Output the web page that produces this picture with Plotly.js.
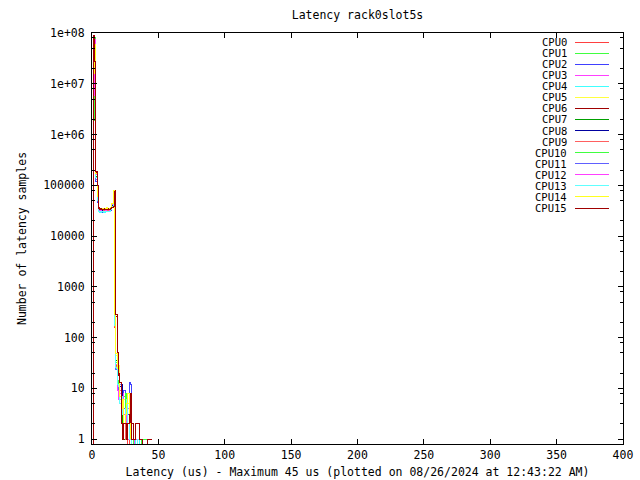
<!DOCTYPE html>
<html><head><meta charset="utf-8">
<script src="https://cdn.plot.ly/plotly-3.0.1.min.js"></script>
<style>html,body{margin:0;padding:0;background:#fff}
.scatterlayer path, .shapelayer path { shape-rendering: crispEdges; }</style>
</head><body><div id="chart" style="width:640px;height:480px"></div>
<script>
const cpuNames = ["CPU0","CPU1","CPU2","CPU3","CPU4","CPU5","CPU6","CPU7","CPU8","CPU9","CPU10","CPU11","CPU12","CPU13","CPU14","CPU15"];
const cpuColors = ["#ff4040","#40ff40","#4040ff","#ff40ff","#40ffff","#ffff40","#a00000","#00a000","#0000a0","#ff6060","#40ff40","#6060ff","#ff40ff","#60ffff","#ffff20","#a00000"];
const latencyUs = [0,1,2,3,4,5,6,7,8,9,10,11,12,13,14,15,16,17,18,19,20,21,22,23,24,25,26,27,28,29,30,31,32,33,34,35,36,37,38,39,40,41,42,43,44,45];

const cpu0 = [0,9.0e7,5.0e6,1.6e5,5.2e4,3.4e4,3.3e4,3.3e4,3.4e4,3.3e4,3.3e4,3.4e4,3.3e4,3.4e4,3.5e4,3.9e4,7.2e4,155,28,12,8,6,3,2,4,2,1,0,1];
const cpu1 = [0,6.0e7,6.0e6,1.8e5,6.0e4,3.5e4,3.4e4,3.4e4,3.5e4,3.4e4,3.4e4,3.5e4,3.4e4,3.4e4,3.6e4,4.2e4,6.5e4,270,35,14,9,6,5,4,7,5,3,2,1,1,0,1];
const cpu2 = [0,7.0e7,3.0e6,1.2e5,4.5e4,3.0e4,2.9e4,2.9e4,3.0e4,3.0e4,3.1e4,3.0e4,3.0e4,3.1e4,3.2e4,3.6e4,6.8e4,180,25,11,8,7,5,6,9,6,5,3,13,12,2,0,0,1];
const cpu3 = [0,5.5e7,8.0e6,1.5e5,5.5e4,3.2e4,3.1e4,3.2e4,3.2e4,3.1e4,3.2e4,3.2e4,3.1e4,3.2e4,3.4e4,4.0e4,7.5e4,200,30,10,7,5,4,8,3,6,2,4,1,2,0,0,1,1,1,1];
const cpu4 = [0,1.2e7,4.0e7,1.3e5,5.0e4,3.0e4,2.9e4,3.0e4,3.0e4,2.9e4,3.0e4,3.1e4,3.0e4,3.0e4,3.3e4,3.8e4,7.0e4,170,25,12,10,6,4,5,2,7,3,1,2,1,0,0,0,1,1,1,0,1,1,1];
const cpu5 = [0,1.6e7,3.0e7,1.7e5,5.8e4,3.5e4,3.4e4,3.5e4,3.5e4,3.4e4,3.5e4,3.6e4,3.4e4,3.5e4,3.7e4,4.4e4,8.0e4,300,45,22,28,8,5,2,6,1,3,5,1,1];
const cpu6 = [0,8.5e7,2.7e7,1.8e5,1.0e5,3.6e4,3.5e4,3.5e4,3.5e4,3.5e4,3.4e4,3.5e4,3.5e4,3.5e4,3.6e4,3.7e4,4.0e4,7.8e4,260,40,18,12,2,1,2,2,1,1,2,7,2,1,1,2,2,2,1];
const cpu7 = [0,6.5e6,7.0e7,1.5e5,6.5e4,3.3e4,3.3e4,3.2e4,3.3e4,3.3e4,3.3e4,3.2e4,3.3e4,3.3e4,3.5e4,4.1e4,7.0e4,280,35,12,8,5,3,2,1,2,1];
const cpu8 = [0,5.0e7,1.0e7,1.4e5,5.5e4,3.2e4,3.1e4,3.1e4,3.2e4,3.1e4,3.2e4,3.1e4,3.2e4,3.2e4,3.4e4,4.0e4,7.3e4,210,30,13,12,11,12,6,4,3,5,2,1,1];
const cpu9 = [0,4.0e7,1.5e7,1.6e5,5.0e4,3.3e4,3.2e4,3.3e4,3.3e4,3.2e4,3.3e4,3.3e4,3.2e4,3.3e4,3.5e4,3.9e4,7.1e4,165,27,10,7,9,5,3,2,1,2,1];
const cpu10 = [0,1.9e6,8.0e7,1.7e5,6.2e4,3.4e4,3.4e4,3.3e4,3.4e4,3.4e4,3.4e4,3.3e4,3.4e4,3.4e4,3.6e4,4.3e4,7.6e4,240,33,13,6,8,5,4,3,8,5,2,1,1,0,1,0,0,0,0,0,1,1,1,1,1,1];
const cpu11 = [0,3.0e7,2.0e7,1.3e5,4.8e4,3.1e4,3.0e4,3.1e4,3.1e4,3.0e4,3.1e4,3.1e4,3.0e4,3.1e4,3.3e4,3.7e4,6.9e4,190,24,11,9,12,6,3,4,2,1,1];
const cpu12 = [0,6.0e6,7.5e7,1.6e5,5.6e4,3.3e4,3.2e4,3.3e4,3.3e4,3.3e4,3.2e4,3.3e4,3.3e4,3.2e4,3.5e4,4.1e4,7.4e4,220,29,9,6,8,4,5,3,2,4,1,2,1,0,0,1,1,1,1,1];
const cpu13 = [0,2.5e7,4.5e7,1.4e5,5.1e4,3.1e4,3.0e4,3.0e4,3.1e4,3.0e4,3.1e4,3.0e4,3.1e4,3.0e4,3.3e4,3.8e4,7.0e4,175,26,12,11,5,7,3,2,4,6,2,1,1,0,0,0,0,1,1,1,1,1];
const cpu14 = [0,1.6e7,6.0e7,1.7e5,6.0e4,3.5e4,3.4e4,3.4e4,3.5e4,3.4e4,3.5e4,3.5e4,3.4e4,3.5e4,3.7e4,4.4e4,7.8e4,290,48,25,20,7,4,6,2,3,5,8,2,1];
const cpu15 = [0,9.0e7,2.7e7,1.9e5,1.0e5,3.5e4,3.4e4,3.4e4,3.4e4,3.4e4,3.4e4,3.4e4,3.4e4,3.4e4,3.5e4,3.6e4,3.9e4,7.6e4,280,50,20,13,2,1,2,2,1,2,3,8,1,1,1,2,2,2,1,1,0,0,0,0,1,1,1,1];

const yTickVals = [1,10,100,1000,10000,100000,1e6,1e7,1e8];
const yTickText = ["1","10","100","1000","10000","100000","1e+06","1e+07","1e+08"];
const xTickVals = [0,50,100,150,200,250,300,350,400];

const counts = [cpu0,cpu1,cpu2,cpu3,cpu4,cpu5,cpu6,cpu7,cpu8,cpu9,cpu10,cpu11,cpu12,cpu13,cpu14,cpu15];
const ZERO_FLOOR = 0.5; // zero counts fall below the log axis, like gnuplot

const traces = counts.map((c, i) => ({
  x: latencyUs.slice(0, c.length),
  y: c.map(v => v > 0 ? v : ZERO_FLOOR),
  type: 'scatter', mode: 'lines',
  line: {shape: 'hv', color: cpuColors[i], width: 1},
  name: cpuNames[i], showlegend: false, hoverinfo: 'skip'
}));

const minorVals = [];
for (let d = 0; d < 8; d++) { [2,5,8].forEach(m => minorVals.push(m * Math.pow(10, d))); }

const FONT = 'DejaVu Sans Mono, monospace';
const W = 640, H = 480, L = 92, R = 17, T = 33, B = 36;
const pw = W - L - R, ph = H - T - B;
const px2x = p => (p - L) / pw;
const py2y = p => 1 - (p - T) / ph;

const annotations = [];
const shapes = [];
cpuNames.forEach((n, i) => {
  const py = 42 + i * 11.07;
  annotations.push({text: n, xref: 'paper', yref: 'paper', x: px2x(568), y: py2y(py),
    xanchor: 'right', yanchor: 'middle', showarrow: false, borderpad: 0,
    font: {family: FONT, size: 10.5, color: '#000'}});
  shapes.push({type: 'line', xref: 'paper', yref: 'paper', x0: px2x(575), x1: px2x(609),
    y0: py2y(py), y1: py2y(py), line: {color: cpuColors[i], width: 1}});
});

const layout = {
  width: W, height: H,
  margin: {l: L, r: R, t: T, b: B, pad: 0},
  paper_bgcolor: '#fff', plot_bgcolor: '#fff',
  font: {family: FONT, size: 11.5, color: '#000'},
  showlegend: false,
  title: {text: 'Latency rack0slot5s', x: 0.5, xref: 'paper', xanchor: 'center',
    y: 1 - 15 / H, yref: 'container', yanchor: 'middle', font: {family: FONT, size: 11.5}},
  xaxis: {
    range: [0, 400], tickmode: 'array', tickvals: xTickVals,
    ticks: 'inside', ticklen: 5, tickcolor: '#000', showgrid: false, zeroline: false,
    showline: true, linecolor: '#000', linewidth: 1, mirror: 'ticks',
    tickfont: {family: FONT, size: 11.5},
    title: {text: 'Latency (us) - Maximum 45 us (plotted on 08/26/2024 at 12:43:22 AM)',
      font: {family: FONT, size: 11.5}, standoff: 7}
  },
  yaxis: {
    type: 'log', range: [Math.log10(0.8), 8], tickmode: 'array',
    tickvals: yTickVals, ticktext: yTickText,
    ticks: 'inside', ticklen: 5, tickcolor: '#000', showgrid: false, zeroline: false,
    showline: true, linecolor: '#000', linewidth: 1, mirror: 'ticks',
    tickfont: {family: FONT, size: 11.5}, ticklabelstandoff: 4,
    minor: {tickmode: 'array', tickvals: minorVals, ticks: 'inside', ticklen: 3, tickcolor: '#000', showgrid: false},
    title: {text: 'Number of latency samples', font: {family: FONT, size: 11.5}, standoff: 14}
  },
  annotations: annotations,
  shapes: shapes
};

Plotly.newPlot('chart', traces, layout, {staticPlot: true, displayModeBar: false});
</script>
</body></html>
